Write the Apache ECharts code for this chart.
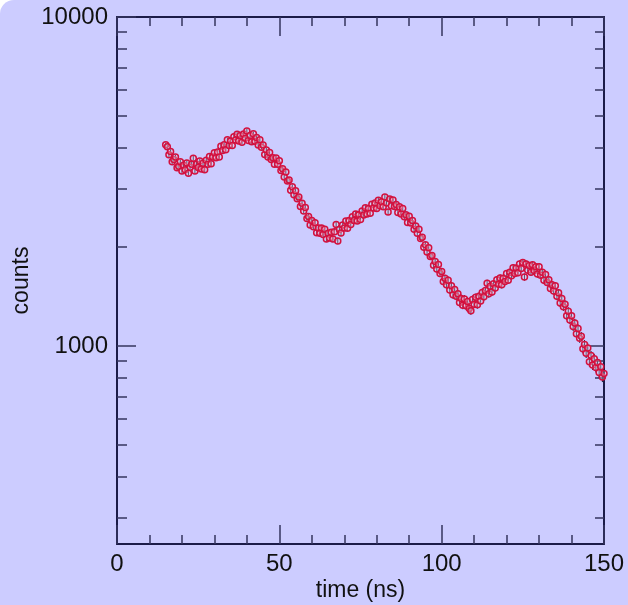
<!DOCTYPE html>
<html><head><meta charset="utf-8">
<script src="https://cdn.jsdelivr.net/npm/echarts@6/dist/echarts.min.js"></script>
<style>
html,body{margin:0;padding:0;background:#ffffff;}
#c{width:628px;height:605px;background:#ccccff;border-top-left-radius:14px;overflow:hidden;}
</style></head><body><div id="c"></div>
<script>
// time sampling (ns)
const T_START = 15, T_STEP = 0.5;
// measured counts, one per time bin (15 ns ... 150 ns)
const counts = [
  4090,4030,3810,3900,3630,3690,3750,3480,3520,3630,
  3400,3545,3430,3600,3350,3495,3570,3720,3405,3570,
  3485,3650,3450,3590,3430,3670,3565,3765,3580,3750,
  3865,3735,3890,3755,4050,3930,4090,3950,4235,4065,
  4200,4065,4325,4225,4400,4200,4365,4160,4405,4280,
  4500,4215,4365,4175,4420,4190,4305,4080,4235,4015,
  4080,3820,3940,3755,3875,3685,3735,3565,3725,3565,
  3655,3415,3455,3265,3380,3175,3195,2975,3045,2880,
  2965,2800,2835,2655,2715,2570,2635,2440,2475,2330,
  2405,2305,2370,2210,2285,2200,2285,2180,2265,2115,
  2200,2130,2215,2115,2225,2340,2085,2260,2205,2330,
  2285,2400,2280,2405,2340,2470,2405,2520,2400,2505,
  2425,2570,2500,2630,2520,2615,2530,2695,2625,2720,
  2615,2775,2670,2745,2650,2835,2720,2555,2795,2670,
  2780,2655,2690,2545,2650,2520,2615,2470,2505,2375,
  2480,2365,2405,2265,2315,2200,2265,2120,2140,1995,
  2030,1930,1990,1870,1885,1760,1805,1715,1770,1660,
  1685,1570,1605,1535,1585,1480,1525,1430,1485,1415,
  1440,1355,1395,1330,1390,1325,1365,1300,1280,1385,
  1340,1405,1335,1415,1370,1455,1410,1475,1550,1440,
  1520,1460,1545,1500,1590,1540,1610,1535,1605,1570,
  1660,1585,1675,1635,1730,1660,1725,1670,1775,1720,
  1795,1620,1775,1700,1755,1675,1765,1695,1740,1655,
  1740,1640,1675,1585,1650,1560,1590,1495,1535,1470,
  1525,1415,1450,1350,1395,1315,1340,1235,1275,1200,
  1235,1145,1175,1090,1130,1055,1070,980,1010,950,
  985,895,935,875,915,860,890,830,865,805,
  825
];
const xTickLabels = [0, 50, 100, 150];
const yMajor = [1000, 10000];
const yMinor = [300,400,500,600,700,800,900,2000,3000,4000,5000,6000,7000,8000,9000];
const Y_MIN = 250, Y_MAX = 10000;

const pts = counts.map((v, i) => [T_START + i * T_STEP, v]);
// Poisson counting error bars
const bars = counts.map((v, i) => [T_START + i * T_STEP, v - Math.sqrt(v), v + Math.sqrt(v)]);

const AX = '#1b1b48', TK = '#35355f', FONT = '"Liberation Sans", Arial, Helvetica, sans-serif';

const chart = echarts.init(document.getElementById('c'), null, {renderer: 'canvas'});
const xBase = {
  type: 'value', min: 0, max: 150, interval: 50,
  splitLine: {show: false},
  axisLine: {show: true, onZero: false, lineStyle: {color: AX, width: 2}},
  axisTick: {show: true, inside: true, length: 19, lineStyle: {color: TK, width: 1.5}},
  minorTick: {show: true, splitNumber: 5, length: 9, lineStyle: {color: TK, width: 1.5}},
  minorSplitLine: {show: false}
};
const yBase = {
  type: 'log', logBase: 10, min: Y_MIN, max: Y_MAX,
  splitLine: {show: false}, minorSplitLine: {show: false}
};
chart.setOption({
  backgroundColor: 'transparent',
  animation: false,
  grid: {left: 117, right: 24, top: 17, bottom: 61, containLabel: false, outerBoundsMode: 'none'},
  xAxis: [
    Object.assign({}, xBase, {
      position: 'bottom',
      name: 'time (ns)', nameLocation: 'middle', nameGap: 35, nameMoveOverlap: false,
      nameTextStyle: {fontFamily: FONT, fontSize: 23, color: '#111'},
      axisLabel: {show: true, margin: 8, fontFamily: FONT, fontSize: 24, color: '#111',
        customValues: xTickLabels, formatter: v => String(v)}
    }),
    Object.assign({}, xBase, {position: 'top', axisLabel: {show: false}})
  ],
  yAxis: [
    Object.assign({}, yBase, {
      position: 'left',
      name: 'counts', nameLocation: 'middle', nameGap: 84, nameRotate: 90, nameMoveOverlap: false,
      nameTextStyle: {fontFamily: FONT, fontSize: 23, color: '#111'},
      axisLine: {show: true, onZero: false, lineStyle: {color: AX, width: 2}},
      axisTick: {show: true, inside: true, length: 19, customValues: yMajor, lineStyle: {color: TK, width: 1.5}},
      axisLabel: {show: true, margin: 9, fontFamily: FONT, fontSize: 24, color: '#111',
        customValues: yMajor, formatter: v => String(Math.round(v))}
    }),
    Object.assign({}, yBase, {
      position: 'left',
      axisLine: {show: false, onZero: false},
      axisTick: {show: true, inside: true, length: 10, customValues: yMinor, lineStyle: {color: TK, width: 1.5}},
      axisLabel: {show: false}
    }),
    Object.assign({}, yBase, {
      position: 'right',
      axisLine: {show: true, onZero: false, lineStyle: {color: AX, width: 2}},
      axisTick: {show: true, inside: true, length: 14, customValues: yMajor, lineStyle: {color: TK, width: 1.5}},
      axisLabel: {show: false}
    }),
    Object.assign({}, yBase, {
      position: 'right',
      axisLine: {show: false, onZero: false},
      axisTick: {show: true, inside: true, length: 9, customValues: yMinor, lineStyle: {color: TK, width: 1.5}},
      axisLabel: {show: false}
    })
  ],
  series: [
    {
      type: 'custom', xAxisIndex: 0, yAxisIndex: 0, z: 2,
      data: bars,
      encode: {x: 0, y: [1, 2]},
      renderItem: function (params, api) {
        const lo = api.coord([api.value(0), api.value(1)]);
        const hi = api.coord([api.value(0), api.value(2)]);
        return {type: 'line', shape: {x1: lo[0], y1: lo[1], x2: hi[0], y2: hi[1]},
          style: {stroke: '#15152e', lineWidth: 1}};
      }
    },
    {
      type: 'scatter', xAxisIndex: 0, yAxisIndex: 0, z: 3,
      data: pts, symbol: 'circle', symbolSize: 6,
      itemStyle: {color: 'rgba(240,200,220,0.35)', borderColor: '#d3113f', borderWidth: 1.5, opacity: 1}
    }
  ]
});
</script></body></html>
